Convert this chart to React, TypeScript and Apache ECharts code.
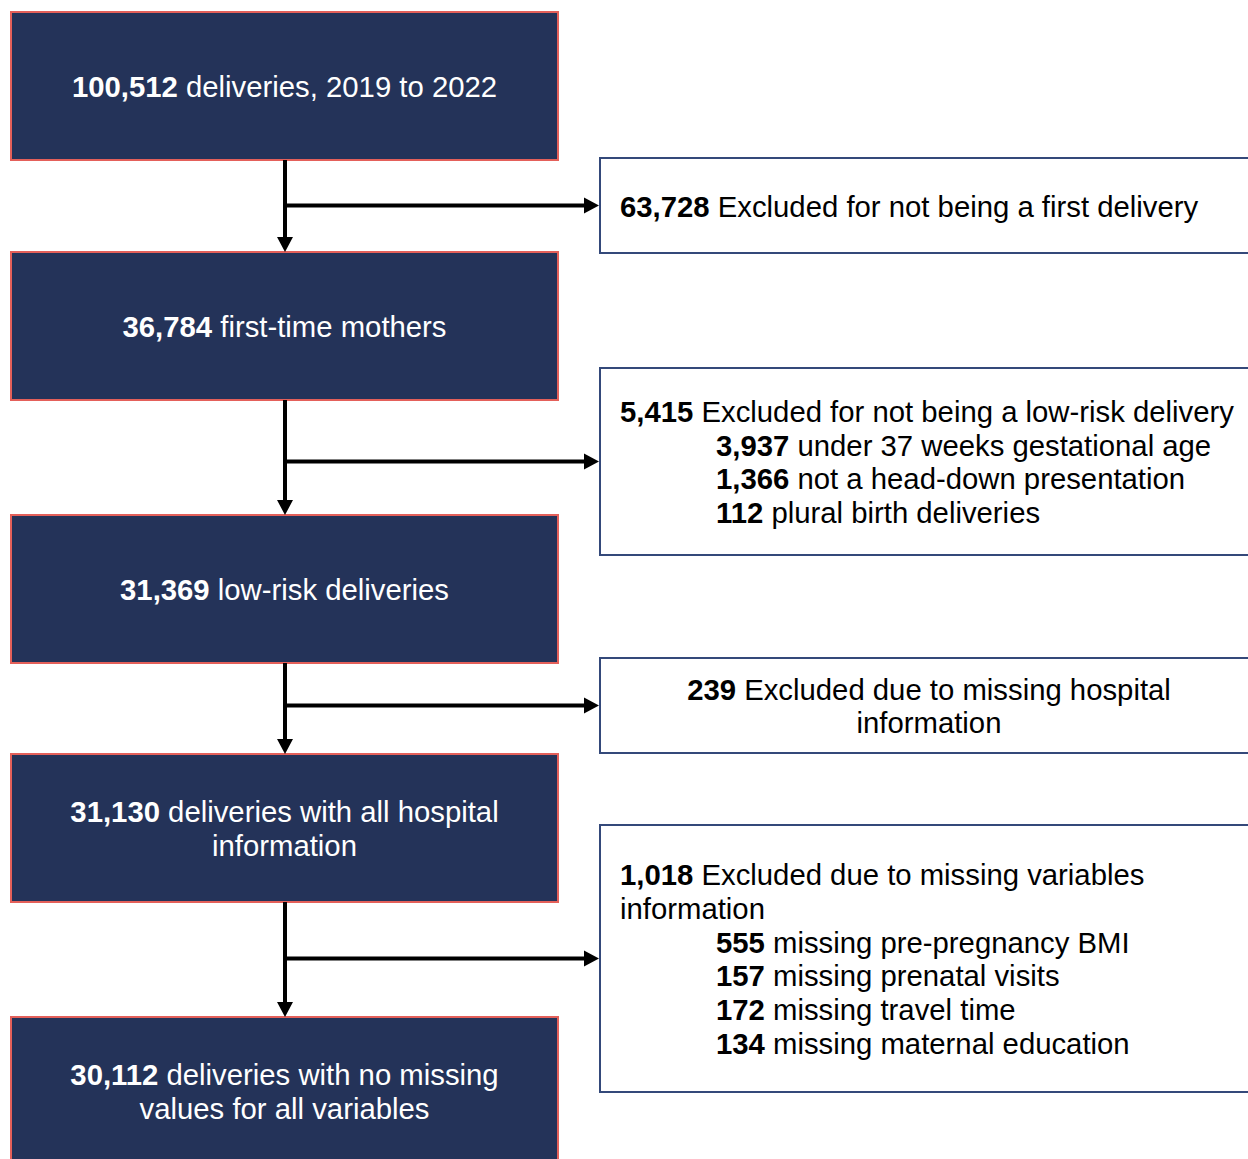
import React, { useEffect, useRef } from "react";
import * as echarts from "echarts";

// ---- data ----
const stageCounts = ["100,512", "36,784", "31,369", "31,130", "30,112"];
const stageTexts: string[][] = [
  ["deliveries, 2019 to 2022"],
  ["first-time mothers"],
  ["low-risk deliveries"],
  ["deliveries with all hospital", "information"],
  ["deliveries with no missing", "values for all variables"],
];
const exclCounts = ["63,728", "5,415", "239", "1,018"];
const exclTexts: string[][] = [
  ["Excluded for not being a first delivery"],
  ["Excluded for not being a low-risk delivery"],
  ["Excluded due to missing hospital", "information"],
  ["Excluded due to missing variables", "information"],
];
const exclCentered = [false, false, true, false];
const subCounts: string[][] = [[], ["3,937", "1,366", "112"], [], ["555", "157", "172", "134"]];
const subTexts: string[][] = [
  [],
  ["under 37 weeks gestational age", "not a head-down presentation", "plural birth deliveries"],
  [],
  ["missing pre-pregnancy BMI", "missing prenatal visits", "missing travel time", "missing maternal education"],
];

// ---- layout / style ----
const FONT = "'Liberation Sans', Arial, sans-serif";
const FS = 29.3;
const LH = 33.8;
const NAVY = "#243359";
const RED = "#e4605a";
const BORDER_R = "#34497a";
const LX = 11, LW = 547, LH_BOX = 148;
const leftTops = [12, 252, 515, 754, 1017];
const RX = 600, RW = 700;
const rightTops = [158, 368, 658, 825];
const rightBottoms = [253, 555, 753, 1092];
const AX = 285;
const TY = 0.5;

function textEl(x: number, y: number, str: string, color: string, align: string) {
  return {
    type: "text",
    x,
    y: y + TY,
    silent: true,
    style: {
      text: str,
      fill: color,
      font: `${FS}px ${FONT}`,
      fontSize: FS,
      fontFamily: FONT,
      align,
      verticalAlign: "middle",
      rich: {
        b: { fontWeight: "bold", fontSize: FS, fontFamily: FONT, fill: color },
        n: { fontSize: FS, fontFamily: FONT, fill: color },
      },
    },
  };
}

function buildGraphics() {
  const els: any[] = [];
  leftTops.forEach((top, i) => {
    els.push({
      type: "rect",
      shape: { x: LX, y: top, width: LW, height: LH_BOX },
      style: { fill: NAVY, stroke: RED, lineWidth: 2 },
    });
    const lines = stageTexts[i];
    const cy = top + LH_BOX / 2;
    lines.forEach((ln, j) => {
      const y = cy + (j - (lines.length - 1) / 2) * LH;
      const s = j === 0 ? `{b|${stageCounts[i]}}{n| ${ln}}` : `{n|${ln}}`;
      els.push(textEl(LX + LW / 2, y, s, "#ffffff", "center"));
    });
  });
  for (let i = 0; i < leftTops.length - 1; i++) {
    const y0 = leftTops[i] + LH_BOX;
    const y1 = leftTops[i + 1];
    els.push({
      type: "line",
      shape: { x1: AX, y1: y0, x2: AX, y2: y1 - 12 },
      style: { stroke: "#000", lineWidth: 4 },
    });
    els.push({
      type: "polygon",
      shape: { points: [[AX - 8, y1 - 15], [AX + 8, y1 - 15], [AX, y1]] },
      style: { fill: "#000" },
    });
  }
  rightTops.forEach((top, i) => {
    const bot = rightBottoms[i];
    els.push({
      type: "rect",
      shape: { x: RX, y: top, width: RW, height: bot - top },
      style: { fill: "#ffffff", stroke: BORDER_R, lineWidth: 2 },
    });
    const cy = (top + bot) / 2;
    els.push({
      type: "line",
      shape: { x1: AX, y1: cy, x2: RX - 12, y2: cy },
      style: { stroke: "#000", lineWidth: 4 },
    });
    els.push({
      type: "polygon",
      shape: { points: [[RX - 16, cy - 8], [RX - 16, cy + 8], [RX - 1, cy]] },
      style: { fill: "#000" },
    });
    const main = exclTexts[i];
    const subs = subTexts[i];
    const total = main.length + subs.length;
    const centered = exclCentered[i];
    const tx = centered ? 929 : 620;
    const align = centered ? "center" : "left";
    main.forEach((ln, j) => {
      const y = cy + (j - (total - 1) / 2) * LH;
      const s = j === 0 ? `{b|${exclCounts[i]}}{n| ${ln}}` : `{n|${ln}}`;
      els.push(textEl(tx, y, s, "#000000", align));
    });
    subs.forEach((ln, k) => {
      const j = main.length + k;
      const y = cy + (j - (total - 1) / 2) * LH;
      els.push(textEl(716, y, `{b|${subCounts[i][k]}}{n| ${ln}}`, "#000000", "left"));
    });
  });
  return els;
}

export default function App() {
  const ref = useRef<HTMLDivElement>(null);
  useEffect(() => {
    document.body.style.margin = "0";
    if (!ref.current) return;
    const chart = echarts.init(ref.current, undefined, { renderer: "svg" });
    chart.setOption({
      animation: false,
      backgroundColor: "#ffffff",
      graphic: { elements: buildGraphics() },
    });
    return () => chart.dispose();
  }, []);
  return <div ref={ref} style={{ width: 1248, height: 1159 }} />;
}
